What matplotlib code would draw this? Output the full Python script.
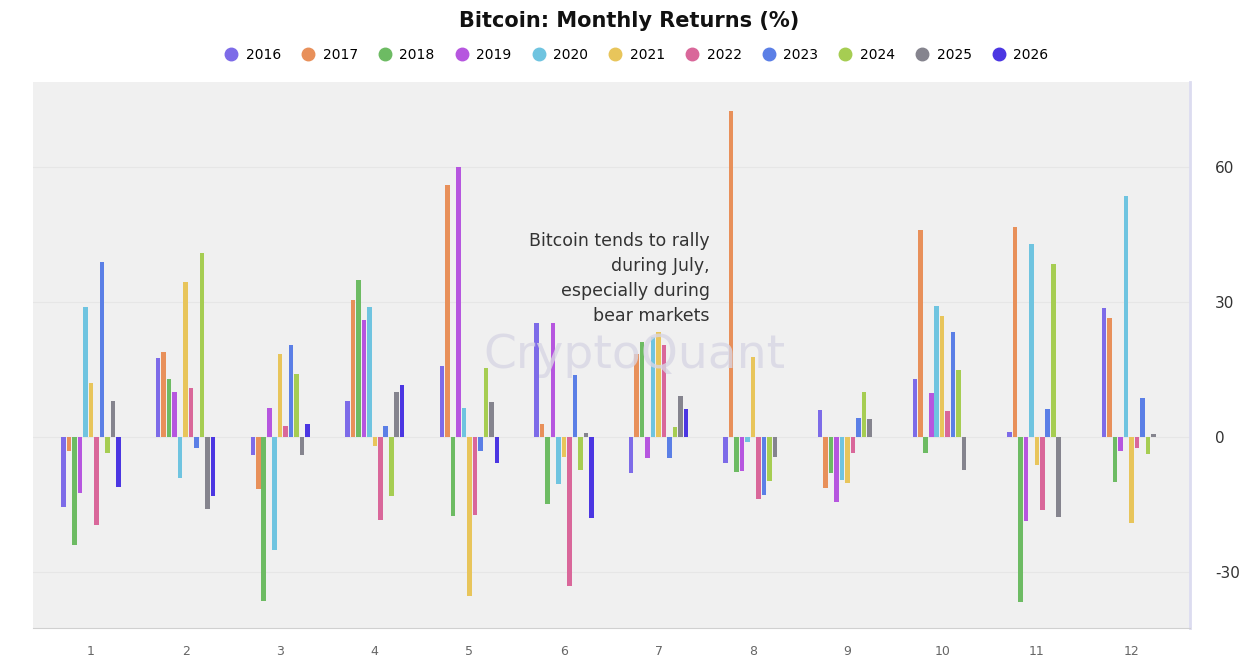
import numpy as np
import matplotlib.pyplot as plt
from matplotlib.lines import Line2D

plt.rcParams["axes.unicode_minus"] = False

months = list(range(1, 13))
years = ["2016", "2017", "2018", "2019", "2020", "2021", "2022", "2023", "2024", "2025", "2026"]
colors = ["#7d6be8", "#e8905a", "#6dbb63", "#b656df", "#6fc4e0", "#e8c55b",
          "#d9679a", "#5b7fe6", "#a6cd52", "#85848e", "#4b36e2"]

# monthly returns (%) per year, months 1..12 (None = no data)
r2016 = [-15.5, 17.5, -4, 8, 15.8, 25.3, -7.9, -5.8, 6, 12.9, 1.2, 28.7]
r2017 = [-3, 19, -11.5, 30.5, 56, 3, 18.4, 72.4, -11.3, 46, 46.6, 26.4]
r2018 = [-24, 13, -36.5, 35, -17.6, -14.9, 21.1, -7.7, -8, -3.6, -36.7, -9.9]
r2019 = [-12.5, 10, 6.5, 26, 60, 25.4, -4.6, -7.5, -14.3, 9.8, -18.6, -3.1]
r2020 = [29, -9, -25, 29, 6.4, -10.4, 22.3, -1, -9.5, 29.1, 42.9, 53.6]
r2021 = [12, 34.5, 18.5, -2, -35.4, -4.4, 23.4, 17.8, -10.2, 26.9, -6.2, -19.1]
r2022 = [-19.5, 11, 2.5, -18.5, -17.4, -33, 20.4, -13.7, -3.6, 5.8, -16.1, -2.5]
r2023 = [39, -2.5, 20.5, 2.5, -3, 13.7, -4.6, -12.9, 4.2, 23.3, 6.2, 8.7]
r2024 = [-3.5, 41, 14, -13, 15.3, -7.3, 2.3, -9.8, 10, 14.9, 38.4, -3.8]
r2025 = [8, -16, -4, 10, 7.8, 1, 9.1, -4.4, 4, -7.3, -17.8, 0.8]
r2026 = [-11, -13, 3, 11.5, -5.8, -18, 6.2, None, None, None, None, None]
series = [r2016, r2017, r2018, r2019, r2020, r2021, r2022, r2023, r2024, r2025, r2026]

fig = plt.figure(figsize=(12.58, 6.63), dpi=100)
fig.patch.set_facecolor("white")
ax = fig.add_axes([33 / 1258, 1 - 628 / 663, (1190 - 33) / 1258, (628 - 82) / 663])
ax.set_facecolor("#f0f0f0")

step = 0.058
x = np.array(months, dtype=float)
for i, (yr, vals, c) in enumerate(zip(years, series, colors)):
    v = np.array([np.nan if a is None else a for a in vals], dtype=float)
    ax.bar(x + (i - 5) * step, v, width=0.048, color=c, zorder=3)

ax.set_xlim(0.386, 12.62)
ax.set_ylim(-42.4, 78.9)
ax.set_xticks(months)
ax.set_yticks([-30, 0, 30, 60])
ax.yaxis.tick_right()
ax.tick_params(axis="y", length=0, labelsize=11, colors="#333333", pad=18)
ax.tick_params(axis="x", length=0, labelsize=9, colors="#666666", pad=12)
ax.grid(axis="y", color="#e6e6e6", linewidth=0.8, zorder=0)
for s in ["top", "left"]:
    ax.spines[s].set_visible(False)
ax.spines["bottom"].set_color("#d0d0d0")
ax.spines["right"].set_color("#dcdcf0")
ax.spines["right"].set_linewidth(2)

ax.text(0.585, 0.725, "Bitcoin tends to rally\nduring July,\nespecially during\nbear markets",
        transform=ax.transAxes, ha="right", va="top", fontsize=12.5, color="#333333",
        linespacing=1.5, zorder=5)
ax.text(0.52, 0.5, "CryptoQuant", transform=ax.transAxes, ha="center", va="center",
        fontsize=34, color="#d8d6e4", alpha=0.8, zorder=4)

fig.text(0.5, 0.968, "Bitcoin: Monthly Returns (%)", ha="center", va="center",
         fontsize=15, fontweight="bold", color="#111111")
handles = [Line2D([0], [0], marker="o", linestyle="", markersize=9, markerfacecolor=c,
                  markeredgecolor=c) for c in colors]
fig.legend(handles, years, loc="center", bbox_to_anchor=(0.503, 0.917), ncol=11, frameon=False,
           fontsize=10, handletextpad=0.05, columnspacing=0.95)

fig.savefig("out.png", dpi=100)
